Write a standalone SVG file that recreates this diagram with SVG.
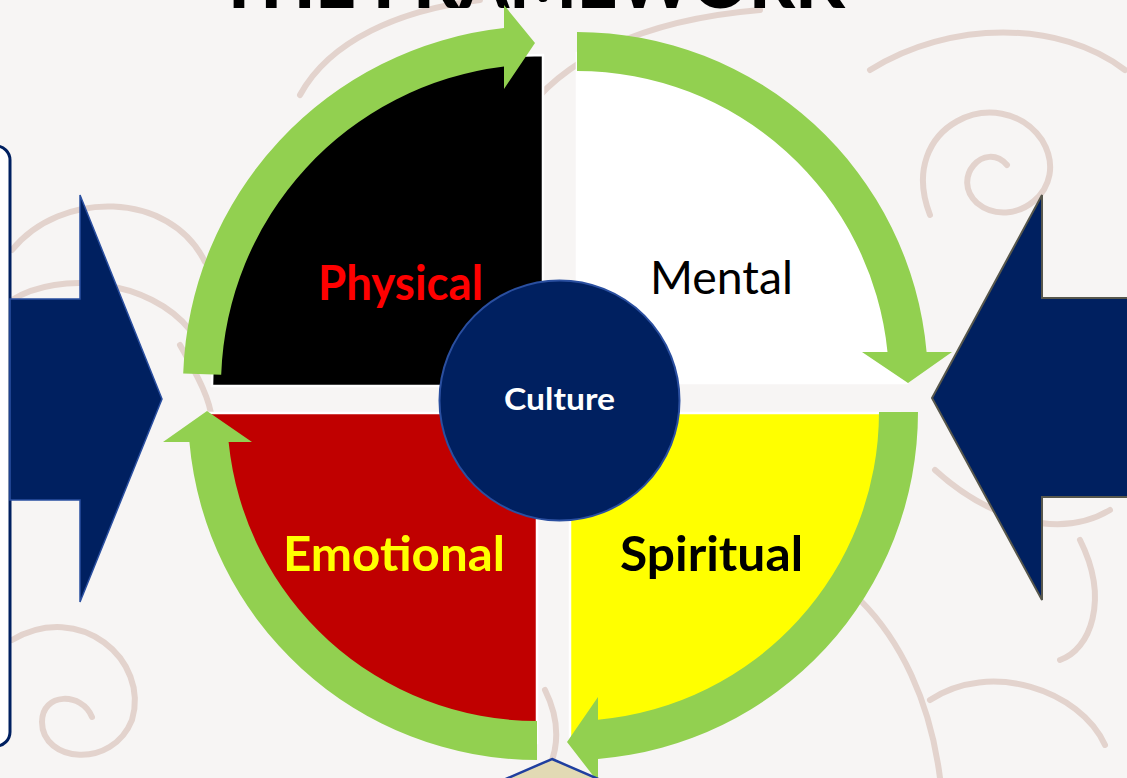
<svg xmlns="http://www.w3.org/2000/svg" width="1127" height="778" viewBox="0 0 1127 778">
<style>
.swirl{fill:none;stroke:#E3D3CD;stroke-width:6;stroke-linecap:round}
.green{fill:#92D050}
.quad{stroke:#FFFFFF;stroke-width:2.5}
.lbl{font-family:Lato,"Open Sans","Liberation Sans",sans-serif;font-size:47px;text-anchor:middle}
.bold{font-weight:bold}
</style>
<rect x="0" y="0" width="1127" height="778" fill="#F7F5F4"/>
<g id="background-swirls">
<path class="swirl" d="M 930 215 C 895 125, 1000 80, 1042 140 C 1072 190, 1012 232, 977 203 C 950 178, 985 140, 1007 165"/>
<path class="swirl" d="M 870 70 C 950 20, 1060 20, 1125 70"/>
<path class="swirl" d="M 12 250 C 60 190, 170 190, 205 262"/>
<path class="swirl" d="M 12 300 C 60 270, 150 280, 190 330"/>
<path class="swirl" d="M 12 640 C 80 600, 150 660, 132 720 C 112 770, 42 762, 42 722 C 42 692, 82 692, 92 717"/>
<path class="swirl" d="M 930 700 C 990 660, 1080 690, 1105 745"/>
<path class="swirl" d="M 935 470 C 990 520, 1060 540, 1110 510"/>
<path class="swirl" d="M 1080 540 C 1110 600, 1090 650, 1060 660"/>
<path class="swirl" d="M 300 95 C 330 40, 400 10, 480 0"/>
<path class="swirl" d="M 520 120 C 560 60, 640 20, 760 10"/>
<path class="swirl" d="M 545 690 C 560 720, 560 750, 545 775"/>
<path class="swirl" d="M 180 345 C 200 380, 210 400, 212 420"/>
<path class="swirl" d="M 860 600 C 900 640, 930 700, 940 778"/>
</g>
<g id="title">
<text x="531" y="8" font-family="Lato,'Liberation Sans',sans-serif" font-weight="900" font-size="72" text-anchor="middle" textLength="627" lengthAdjust="spacingAndGlyphs" fill="#000000">THE FRAMEWORK</text>
</g>
<g id="left-box">
<rect x="-30" y="146" width="40" height="600" rx="14" ry="14" fill="#FFFFFF" stroke="#002060" stroke-width="3"/>
</g>
<g id="left-arrow">
<polygon points="10,299 80,299 80,195 162,399 80,602 80,500 10,500" fill="#002060" stroke="#2A4FA0" stroke-width="1.5"/>
</g>
<g id="right-arrow">
<polygon points="1130,298 1042,298 1042,195 932,398 1042,600 1042,497 1130,497" fill="#002060" stroke="#57574C" stroke-width="2"/>
</g>
<g id="physical">
<path class="quad" d="M 543 386 L 212 386 A 331 331 0 0 1 543 55 Z" fill="#000000"/>
</g>
<g id="mental">
<path class="quad" d="M 577 383 L 577 53 A 330 330 0 0 1 907 383 Z" fill="#FFFFFF"/>
</g>
<g id="emotional">
<path class="quad" d="M 537 413 L 537 743 A 330 330 0 0 1 207 413 Z" fill="#C00000"/>
</g>
<g id="spiritual">
<path class="quad" d="M 570 413 L 900 413 A 330 330 0 0 1 570 743 Z" fill="#FFFF00"/>
</g>
<g id="connectors">
<path class="green" d="M 183.2 373.4 A 360 360 0 0 1 504 28.1 L 504 5 L 535 43 L 504 89 L 504 66.4 A 322 322 0 0 0 221.2 374.8 Z"/>
<path class="green" d="M 577 32 A 351 351 0 0 1 926.6 352 L 952 352 L 908 383 L 862 352 L 887.5 352 A 312 312 0 0 0 577 71 Z"/>
<path class="green" d="M 918 412 A 348 348 0 0 1 598 758.9 L 598 782 L 567 742 L 598 697 L 598 719.7 A 309 309 0 0 0 879 412 Z"/>
<path class="green" d="M 537 760 A 349 349 0 0 1 189.4 442 L 163 442 L 207 411 L 252 442 L 228.6 442 A 310 310 0 0 0 537 721 Z"/>
</g>
<g id="culture">
<circle cx="559.5" cy="400.5" r="120" fill="#002060" stroke="#2A4FA0" stroke-width="2"/>
<text x="559.5" y="410" font-family="Lato,'Open Sans',sans-serif" font-weight="bold" font-size="31" text-anchor="middle" textLength="111" lengthAdjust="spacingAndGlyphs" fill="#FFFFFF">Culture</text>
</g>
<g id="labels">
<text class="lbl bold" x="400.5" y="300" textLength="165" lengthAdjust="spacingAndGlyphs" fill="#FF0000">Physical</text>
<text class="lbl" x="721.5" y="294" textLength="143" lengthAdjust="spacingAndGlyphs" fill="#000000">Mental</text>
<text class="lbl bold" x="394" y="571" textLength="222" lengthAdjust="spacingAndGlyphs" fill="#FFFF00">Emotional</text>
<text class="lbl bold" x="711.5" y="571" textLength="183" lengthAdjust="spacingAndGlyphs" fill="#000000">Spiritual</text>
</g>
<g id="bottom-shape">
<polygon points="552,759 700,823 552,887 404,823" fill="#E2DAB4" stroke="#1F3F9F" stroke-width="2.5"/>
</g>
</svg>
